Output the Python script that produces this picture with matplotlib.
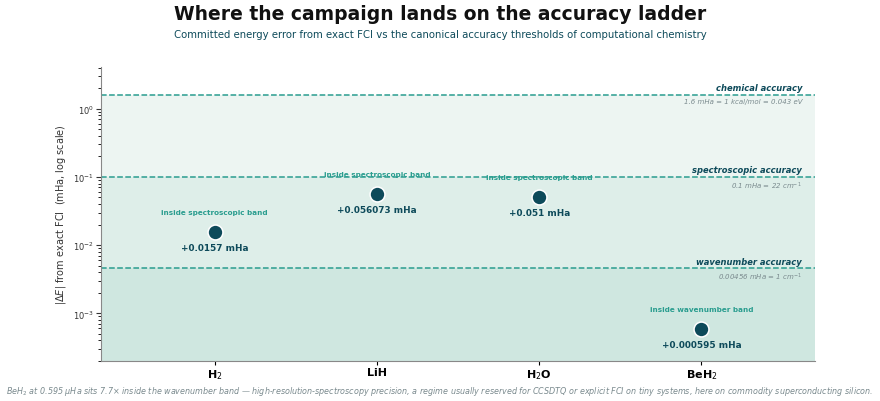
import matplotlib.pyplot as plt

molecules = ['H$_2$', 'LiH', 'H$_2$O', 'BeH$_2$']
errors = [0.0157, 0.056073, 0.051, 0.000595]
value_labels = ['+0.0157 mHa', '+0.056073 mHa', '+0.051 mHa', '+0.000595 mHa']
band_labels = ['inside spectroscopic band', 'inside spectroscopic band',
               'inside spectroscopic band', 'inside wavenumber band']

thresholds = [1.6, 0.1, 0.00456]
threshold_names = ['chemical accuracy', 'spectroscopic accuracy', 'wavenumber accuracy']
threshold_notes = ['1.6 mHa = 1 kcal/mol = 0.043 eV', '0.1 mHa = 22 cm$^{-1}$',
                   '0.00456 mHa = 1 cm$^{-1}$']

dark = '#0d4a5a'
teal = '#2a9d8f'
band_colors = ['#edf5f2', '#deeee9', '#cfe7e0']

fig = plt.figure(figsize=(8.8, 4.02), dpi=100)
ax = fig.add_axes([0.115, 0.0995, 0.811, 0.7315])

ymin, ymax = 2e-4, 4.1
ax.set_yscale('log')
ax.set_ylim(ymin, ymax)
ax.set_xlim(-0.7, 3.7)

# accuracy bands
lows = [thresholds[1], thresholds[2], ymin]
for hi, lo, c in zip(thresholds, lows, band_colors):
    ax.axhspan(lo, hi, color=c, zorder=0, lw=0)

for t, name, note in zip(thresholds, threshold_names, threshold_notes):
    ax.axhline(t, color=teal, ls='--', lw=1.1, zorder=1)
    ax.annotate(name, xy=(0.982, t), xycoords=('axes fraction', 'data'),
                xytext=(0, 2), textcoords='offset points', ha='right', va='bottom',
                fontsize=6, fontweight='bold', fontstyle='italic', color=dark)
    ax.annotate(note, xy=(0.982, t), xycoords=('axes fraction', 'data'),
                xytext=(0, -2), textcoords='offset points', ha='right', va='top',
                fontsize=5, fontstyle='italic', color='#7a8a8e')

x = range(len(molecules))
ax.scatter(x, errors, s=115, color=dark, edgecolor='white', linewidth=1.1, zorder=3)
for xi, e, vl, bl in zip(x, errors, value_labels, band_labels):
    ax.annotate(vl, (xi, e), xytext=(0, -8), textcoords='offset points',
                ha='center', va='top', fontsize=6.4, fontweight='bold', color=dark)
    ax.annotate(bl, (xi, e), xytext=(0, 12), textcoords='offset points',
                ha='center', va='bottom', fontsize=5.25, fontweight='bold', color=teal)

ax.set_xticks(list(x))
ax.set_xticklabels(molecules, fontsize=8, fontweight='bold')
ax.tick_params(axis='y', labelsize=6, colors='#333333', pad=2)
ax.tick_params(axis='x', length=3, pad=1.5)
ax.set_ylabel('|$\\Delta E$| from exact FCI  (mHa, log scale)', fontsize=7,
              color='#333333', labelpad=3)
for s in ['top', 'right']:
    ax.spines[s].set_visible(False)
for s in ['left', 'bottom']:
    ax.spines[s].set_color('#888888')

fig.text(0.5, 0.965, 'Where the campaign lands on the accuracy ladder',
         ha='center', va='center', fontsize=13.5, fontweight='bold', color='#111111')
fig.text(0.5, 0.912, 'Committed energy error from exact FCI vs the canonical accuracy thresholds of computational chemistry',
         ha='center', va='center', fontsize=7.3, color=dark)
fig.text(0.5, 0.025, 'BeH$_2$ at 0.595 μHa sits 7.7× inside the wavenumber band — high-resolution-spectroscopy precision, '
         'a regime usually reserved for CCSDTQ or explicit FCI on tiny systems, here on commodity superconducting silicon.',
         ha='center', va='center', fontsize=5.8, fontstyle='italic', color='#7a8a8e')

fig.savefig('out.png', dpi=100)
